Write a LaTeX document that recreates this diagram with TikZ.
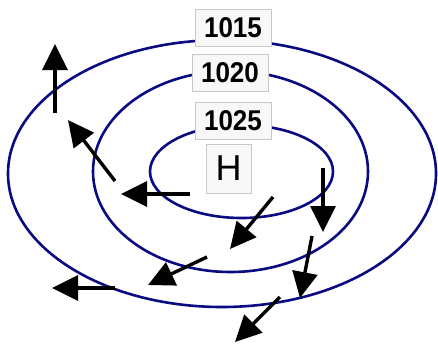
\documentclass[tikz,border=0pt]{standalone}
\usepackage{fontspec}
\usepackage{graphicx}
\setmainfont{Liberation Sans}
\usetikzlibrary{arrows.meta}
\definecolor{isobar}{RGB}{10,10,130}
\definecolor{boxfill}{RGB}{248,248,248}
\definecolor{boxline}{RGB}{200,200,200}
\newcommand{\tallnum}[1]{\scalebox{1}[1.1]{#1}}
\begin{document}
\begin{tikzpicture}[x=1pt,y=-1pt,
  isoline/.style={draw=isobar,line width=2.6pt},
  wind/.style={draw=black,line width=3.4pt,-{Triangle[length=26pt,width=25pt]}},
  plabel/.style={draw=boxline,fill=boxfill,line width=1pt,minimum width=76pt,minimum height=37pt,inner sep=0pt,font=\fontsize{26}{26}\selectfont\bfseries},
  hlabel/.style={draw=boxline,fill=boxfill,line width=1pt,minimum width=45pt,minimum height=49pt,inner sep=0pt,font=\fontsize{36}{36}\selectfont}]
\useasboundingbox (0,0) rectangle (438,343);
\fill[white] (0,0) rectangle (438,343);
% isobars
\draw[isoline] (222,173.5) ellipse [x radius=214, y radius=133.5];
\draw[isoline] (230.5,171.5) ellipse [x radius=137.5, y radius=100.5];
\draw[isoline] (241.5,171.5) ellipse [x radius=91.5, y radius=46.5];
% labels
\node[plabel] (p1015) at (233,28) {\tallnum{1015}};
\node[plabel] (p1020) at (230,73) {\tallnum{1020}};
\node[plabel] (p1025) at (233,121) {\tallnum{1025}};
\node[hlabel] (high) at (228.5,168.5) {H};
% wind arrows
\coordinate (t1) at (55,113);  \coordinate (h1) at (55,44);
\coordinate (t2) at (115,181); \coordinate (h2) at (68,120);
\coordinate (t3) at (190,194); \coordinate (h3) at (121,194);
\coordinate (t4) at (207,257); \coordinate (h4) at (148,285);
\coordinate (t5) at (115,288); \coordinate (h5) at (52,288);
\coordinate (t6) at (273,197); \coordinate (h6) at (230,249);
\coordinate (t7) at (323,168); \coordinate (h7) at (323,232);
\coordinate (t8) at (312,236); \coordinate (h8) at (300,298);
\coordinate (t9) at (280,297); \coordinate (h9) at (235,342);
\foreach \i in {1,...,9} {\draw[wind] (t\i) -- (h\i);}
\end{tikzpicture}
\end{document}
